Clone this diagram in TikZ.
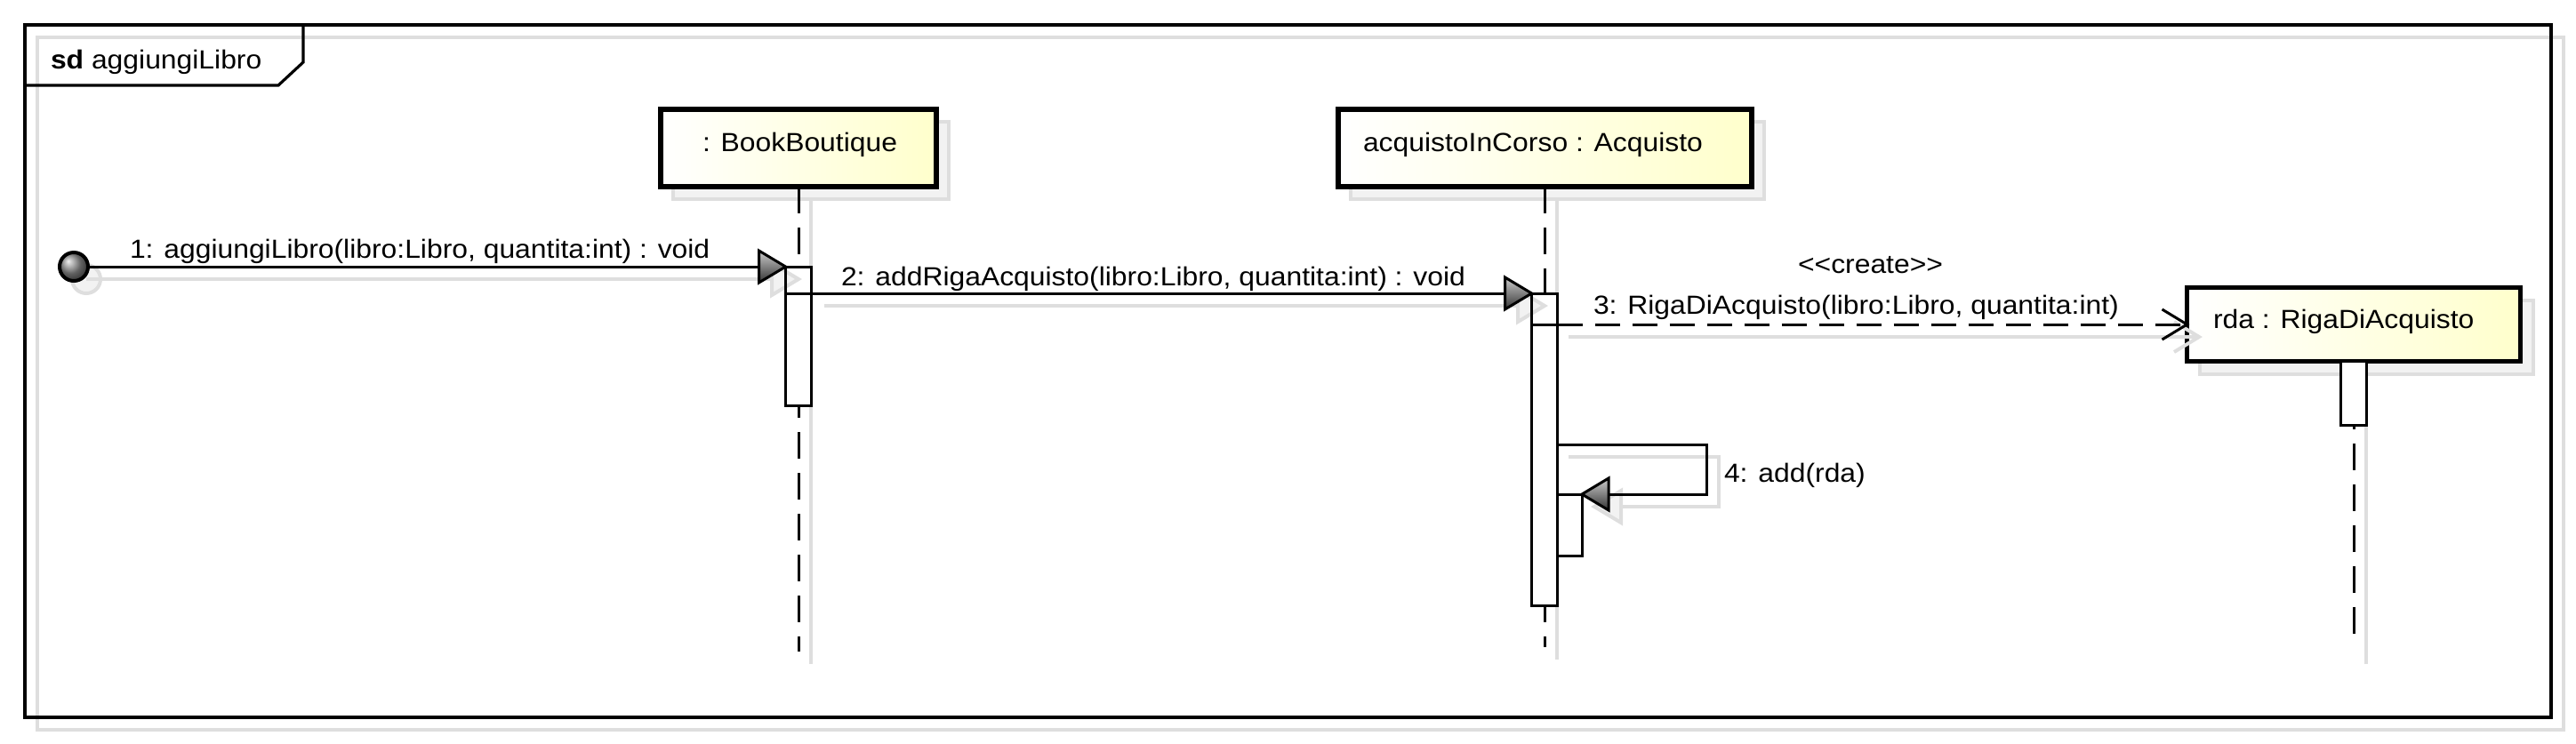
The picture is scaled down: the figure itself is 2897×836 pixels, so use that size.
\documentclass[tikz,border=0pt]{standalone}
\usepackage{fontspec}
\setmainfont{Liberation Sans}[FakeStretch=1.08]
\usetikzlibrary{calc}
\definecolor{lyellow}{RGB}{255,255,204}
\definecolor{shc}{RGB}{222,222,222}
\tikzset{
  every node/.style={outer sep=0pt},
  lbl/.style={anchor=base west, inner sep=0pt, font=\fontsize{7.375pt}{9pt}\selectfont},
  headbox/.style={draw, line width=1.35pt, left color=white, right color=lyellow, inner sep=0pt},
  act/.style={draw, line width=0.75pt, fill=white, inner sep=0pt, minimum width=7.25pt},
  shl/.style={draw=shc, line width=1pt},
  lifeline/.style={line width=0.75pt, dash pattern=on 7.5pt off 4pt},
  msg/.style={line width=0.75pt},
  dmsg/.style={line width=0.75pt, dash pattern=on 7pt off 3.5pt},
  farrow/.pic={\shade[draw=black, line width=0.75pt, line join=miter, top color=gray!40, bottom color=black!80] (0,0) -- (-30,-18) -- (-30,18) -- cycle;},
  sarrow/.pic={\draw[shl, fill=shc!40, line join=miter] (0,0) -- (-30,-18) -- (-30,18) -- cycle;},
  oarrow/.pic={\draw[msg, line join=miter] (-28,-17) -- (0,0) -- (-28,17);},
  soarrow/.pic={\draw[shl, line join=miter] (-28,-17) -- (0,0) -- (-28,17);},
}
\begin{document}
\begin{tikzpicture}[x=0.25pt, y=-0.25pt]
\useasboundingbox (0,0) rectangle (2897,836);
% frame
\draw[shl] (42,42) rectangle (2883,821);
\node[draw, line width=1pt, anchor=north west, minimum width=710.25pt, minimum height=194.75pt, inner sep=0pt] (frame) at (28,28) {};
\draw[line width=0.8pt, line join=miter] (28,96) -- (313,96) -- (341,70) -- (341,28);
\node[lbl] (title) at (57,77) {\textbf{sd} aggiungiLibro};
% heads
\draw[shl, fill=shc!40] (757,137) rectangle (1067,224);
\node[headbox, minimum width=77.5pt, minimum height=21.75pt] (bb) at (898,166.5) {};
\node[lbl] (bbl) at (790,170) {: BookBoutique};
\draw[shl, fill=shc!40] (1519,137) rectangle (1984,224);
\node[headbox, minimum width=116.25pt, minimum height=21.75pt] (acq) at (1737.5,166.5) {};
\node[lbl] (acql) at (1533,170) {acquistoInCorso : Acquisto};
\draw[shl, fill=shc!40] (2473.5,337.5) rectangle (2848.5,420.5);
\node[headbox, minimum width=93.75pt, minimum height=20.75pt] (rda) at (2647,365) {};
\node[lbl] (rdal) at (2489,369) {rda : RigaDiAcquisto};
% lifelines
\coordinate (bbend) at (898,733);
\coordinate (acqend) at (1737,728);
\coordinate (rdaend) at (2647,728);
\draw[shl] (912,224) -- (912,747);
\draw[shl] (1751,224) -- (1751,742);
\draw[shl] (2661,420) -- (2661,747);
\draw[lifeline] (bb.south) -- (bbend);
\draw[lifeline] (acq.south -| acqend) -- (acqend);
\draw[lifeline] (rda.south) -- (rdaend);
% activations
\node[act, minimum height=39pt] (a1) at (898,378) {};
\node[act, minimum height=87.75pt] (a2) at (1737,505.5) {};
\node[act, minimum width=7pt, minimum height=17.25pt] (a3) at (1765,590.5) {};
\node[act, minimum height=18pt] (a4) at (2647,442.5) {};
% message shadows
\draw[shl, fill=shc!40] (97,314) circle[radius=4pt];
\draw[shl] (97,314) -- (870,314);
\pic at (898,314) {sarrow};
\draw[shl] (927,344) -- (1709,344);
\pic at (1737,344) {sarrow};
\draw[shl] (1764,379) -- (2473,379);
\pic at (2473,379) {soarrow};
\draw[shl] (1764,514) -- (1933,514) -- (1933,570) -- (1823,570);
\pic[rotate=180] at (1793,570) {sarrow};
\foreach \n in {a1,a2,a3,a4} \draw[line width=0.75pt] (\n.north west) rectangle (\n.south east);
% messages
\node[circle, draw, line width=1pt, minimum size=8pt, inner sep=0pt, shade, shading=ball, ball color=gray!90] (start) at (83,300) {};
\draw[msg] (start) -- (a1.north west);
\pic at (a1.north west) {farrow};
\draw[msg] (a1.west |- a2.north) -- (a2.north west);
\pic at (a2.north west) {farrow};
\draw[msg] (a2.west |- rda.west) -- (a2.east |- rda.west);
\draw[dmsg] (a2.east |- rda.west) -- (rda.west);
\pic at (rda.west) {oarrow};
\draw[msg, line join=miter] (a2.east |- 0,500) -- (1919,500) |- (a3.north east);
\pic[rotate=180] at (a3.north east) {farrow};
% labels
\node[lbl] (l1) at (146,290) {1: aggiungiLibro(libro:Libro, quantita:int) : void};
\node[lbl] (l2) at (946,321) {2: addRigaAcquisto(libro:Libro, quantita:int) : void};
\node[lbl] (lc) at (2022,307) {<{}<create>{}>};
\node[lbl] (l3) at (1792,353) {3: RigaDiAcquisto(libro:Libro, quantita:int)};
\node[lbl] (l4) at (1939,542) {4: add(rda)};
\end{tikzpicture}
\end{document}
